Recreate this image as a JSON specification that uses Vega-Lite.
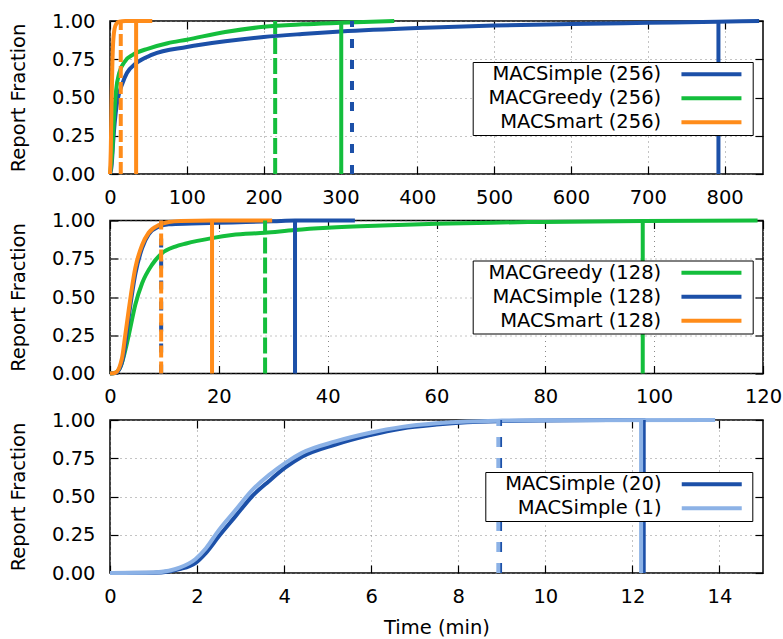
{
  "$schema": "https://vega.github.io/schema/vega-lite/v6.json",
  "padding": {"left": 7, "top": 10, "right": 0, "bottom": 0},
  "background": "white",
  "config": {
    "font": "DejaVu Sans",
    "view": {"stroke": "#000", "strokeWidth": 1.5},
    "axis": {
      "labelFontSize": 19.5, "titleFontSize": 19.5, "titleFontWeight": "normal",
      "labelColor": "#000", "titleColor": "#000", "labelFont": "DejaVu Sans", "titleFont": "DejaVu Sans",
      "domain": false, "ticks": true, "tickSize": -8, "tickColor": "#000", "tickWidth": 1.2,
      "gridColor": "#888", "gridDash": [1, 4], "gridWidth": 1,
      "labelFlush": false, "labelOverlap": false
    },
    "legend": {
      "labelFontSize": 19.5, "labelFont": "DejaVu Sans", "labelColor": "#000", "labelLimit": 0,
      "symbolType": "M-6,0H6", "symbolStrokeWidth": 4, "symbolSize": 100, "symbolDash": [],
      "strokeColor": "#000", "fillColor": "#fff", "padding": 2.5, "rowPadding": 3,
      "orient": "none", "labelAlign": "right", "titleOrient": "right", "titleFontSize": 19.5, "titlePadding": 0
    }
  },
  "datasets": {
    "curves": [
      {"p": 1, "s": "MACSimple (256)", "t": 0, "f": 0},
      {"p": 1, "s": "MACSimple (256)", "t": 2, "f": 0.05},
      {"p": 1, "s": "MACSimple (256)", "t": 4, "f": 0.2},
      {"p": 1, "s": "MACSimple (256)", "t": 6, "f": 0.33},
      {"p": 1, "s": "MACSimple (256)", "t": 9, "f": 0.46},
      {"p": 1, "s": "MACSimple (256)", "t": 12, "f": 0.53},
      {"p": 1, "s": "MACSimple (256)", "t": 16, "f": 0.59},
      {"p": 1, "s": "MACSimple (256)", "t": 22, "f": 0.66},
      {"p": 1, "s": "MACSimple (256)", "t": 33, "f": 0.72},
      {"p": 1, "s": "MACSimple (256)", "t": 55, "f": 0.78},
      {"p": 1, "s": "MACSimple (256)", "t": 100, "f": 0.83},
      {"p": 1, "s": "MACSimple (256)", "t": 150, "f": 0.867},
      {"p": 1, "s": "MACSimple (256)", "t": 200, "f": 0.895},
      {"p": 1, "s": "MACSimple (256)", "t": 250, "f": 0.915},
      {"p": 1, "s": "MACSimple (256)", "t": 300, "f": 0.932},
      {"p": 1, "s": "MACSimple (256)", "t": 400, "f": 0.955},
      {"p": 1, "s": "MACSimple (256)", "t": 500, "f": 0.97},
      {"p": 1, "s": "MACSimple (256)", "t": 600, "f": 0.98},
      {"p": 1, "s": "MACSimple (256)", "t": 700, "f": 0.988},
      {"p": 1, "s": "MACSimple (256)", "t": 790, "f": 0.995},
      {"p": 1, "s": "MACSimple (256)", "t": 845, "f": 1.0},
      {"p": 1, "s": "MACGreedy (256)", "t": 0, "f": 0},
      {"p": 1, "s": "MACGreedy (256)", "t": 3, "f": 0.15},
      {"p": 1, "s": "MACGreedy (256)", "t": 5, "f": 0.35},
      {"p": 1, "s": "MACGreedy (256)", "t": 8, "f": 0.55},
      {"p": 1, "s": "MACGreedy (256)", "t": 12, "f": 0.66},
      {"p": 1, "s": "MACGreedy (256)", "t": 20, "f": 0.74},
      {"p": 1, "s": "MACGreedy (256)", "t": 30, "f": 0.78},
      {"p": 1, "s": "MACGreedy (256)", "t": 50, "f": 0.82},
      {"p": 1, "s": "MACGreedy (256)", "t": 75, "f": 0.855},
      {"p": 1, "s": "MACGreedy (256)", "t": 100, "f": 0.878},
      {"p": 1, "s": "MACGreedy (256)", "t": 150, "f": 0.928},
      {"p": 1, "s": "MACGreedy (256)", "t": 200, "f": 0.962},
      {"p": 1, "s": "MACGreedy (256)", "t": 250, "f": 0.978},
      {"p": 1, "s": "MACGreedy (256)", "t": 300, "f": 0.988},
      {"p": 1, "s": "MACGreedy (256)", "t": 370, "f": 1.0},
      {"p": 1, "s": "MACSmart (256)", "t": 0, "f": 0},
      {"p": 1, "s": "MACSmart (256)", "t": 1, "f": 0.15},
      {"p": 1, "s": "MACSmart (256)", "t": 2, "f": 0.45},
      {"p": 1, "s": "MACSmart (256)", "t": 3, "f": 0.7},
      {"p": 1, "s": "MACSmart (256)", "t": 4, "f": 0.85},
      {"p": 1, "s": "MACSmart (256)", "t": 6, "f": 0.95},
      {"p": 1, "s": "MACSmart (256)", "t": 8, "f": 0.98},
      {"p": 1, "s": "MACSmart (256)", "t": 12, "f": 0.995},
      {"p": 1, "s": "MACSmart (256)", "t": 20, "f": 1.0},
      {"p": 1, "s": "MACSmart (256)", "t": 55, "f": 1.0},

      {"p": 2, "s": "MACGreedy (128)", "t": 0, "f": 0},
      {"p": 2, "s": "MACGreedy (128)", "t": 1, "f": 0.005},
      {"p": 2, "s": "MACGreedy (128)", "t": 2, "f": 0.05},
      {"p": 2, "s": "MACGreedy (128)", "t": 3, "f": 0.18},
      {"p": 2, "s": "MACGreedy (128)", "t": 3.5, "f": 0.26},
      {"p": 2, "s": "MACGreedy (128)", "t": 4.65, "f": 0.45},
      {"p": 2, "s": "MACGreedy (128)", "t": 5.9, "f": 0.59},
      {"p": 2, "s": "MACGreedy (128)", "t": 7.7, "f": 0.71},
      {"p": 2, "s": "MACGreedy (128)", "t": 9.5, "f": 0.785},
      {"p": 2, "s": "MACGreedy (128)", "t": 12, "f": 0.83},
      {"p": 2, "s": "MACGreedy (128)", "t": 14, "f": 0.85},
      {"p": 2, "s": "MACGreedy (128)", "t": 18.75, "f": 0.885},
      {"p": 2, "s": "MACGreedy (128)", "t": 22.4, "f": 0.905},
      {"p": 2, "s": "MACGreedy (128)", "t": 28.5, "f": 0.92},
      {"p": 2, "s": "MACGreedy (128)", "t": 34, "f": 0.938},
      {"p": 2, "s": "MACGreedy (128)", "t": 40, "f": 0.952},
      {"p": 2, "s": "MACGreedy (128)", "t": 50, "f": 0.967},
      {"p": 2, "s": "MACGreedy (128)", "t": 60, "f": 0.978},
      {"p": 2, "s": "MACGreedy (128)", "t": 70, "f": 0.986},
      {"p": 2, "s": "MACGreedy (128)", "t": 80, "f": 0.991},
      {"p": 2, "s": "MACGreedy (128)", "t": 98, "f": 0.997},
      {"p": 2, "s": "MACGreedy (128)", "t": 119, "f": 1.0},
      {"p": 2, "s": "MACSimple (128)", "t": 0, "f": 0},
      {"p": 2, "s": "MACSimple (128)", "t": 1, "f": 0.003},
      {"p": 2, "s": "MACSimple (128)", "t": 2, "f": 0.05},
      {"p": 2, "s": "MACSimple (128)", "t": 2.5, "f": 0.12},
      {"p": 2, "s": "MACSimple (128)", "t": 3.4, "f": 0.36},
      {"p": 2, "s": "MACSimple (128)", "t": 4.65, "f": 0.65},
      {"p": 2, "s": "MACSimple (128)", "t": 5.9, "f": 0.82},
      {"p": 2, "s": "MACSimple (128)", "t": 7.1, "f": 0.91},
      {"p": 2, "s": "MACSimple (128)", "t": 9, "f": 0.96},
      {"p": 2, "s": "MACSimple (128)", "t": 10.8, "f": 0.975},
      {"p": 2, "s": "MACSimple (128)", "t": 15, "f": 0.98},
      {"p": 2, "s": "MACSimple (128)", "t": 20, "f": 0.985},
      {"p": 2, "s": "MACSimple (128)", "t": 25, "f": 0.99},
      {"p": 2, "s": "MACSimple (128)", "t": 30, "f": 0.995},
      {"p": 2, "s": "MACSimple (128)", "t": 34, "f": 1.0},
      {"p": 2, "s": "MACSimple (128)", "t": 45, "f": 1.0},
      {"p": 2, "s": "MACSmart (128)", "t": 0, "f": 0},
      {"p": 2, "s": "MACSmart (128)", "t": 1, "f": 0.005},
      {"p": 2, "s": "MACSmart (128)", "t": 2.2, "f": 0.1},
      {"p": 2, "s": "MACSmart (128)", "t": 2.8, "f": 0.25},
      {"p": 2, "s": "MACSmart (128)", "t": 3.4, "f": 0.405},
      {"p": 2, "s": "MACSmart (128)", "t": 4.65, "f": 0.69},
      {"p": 2, "s": "MACSmart (128)", "t": 5.9, "f": 0.84},
      {"p": 2, "s": "MACSmart (128)", "t": 7.1, "f": 0.92},
      {"p": 2, "s": "MACSmart (128)", "t": 9, "f": 0.97},
      {"p": 2, "s": "MACSmart (128)", "t": 10.8, "f": 0.99},
      {"p": 2, "s": "MACSmart (128)", "t": 13, "f": 0.997},
      {"p": 2, "s": "MACSmart (128)", "t": 18.75, "f": 1.0},
      {"p": 2, "s": "MACSmart (128)", "t": 29.8, "f": 1.0},

      {"p": 3, "s": "MACSimple (20)", "t": 0, "f": 0},
      {"p": 3, "s": "MACSimple (20)", "t": 1, "f": 0.002},
      {"p": 3, "s": "MACSimple (20)", "t": 1.35, "f": 0.01},
      {"p": 3, "s": "MACSimple (20)", "t": 1.6, "f": 0.025},
      {"p": 3, "s": "MACSimple (20)", "t": 1.96, "f": 0.065},
      {"p": 3, "s": "MACSimple (20)", "t": 2.2, "f": 0.13},
      {"p": 3, "s": "MACSimple (20)", "t": 2.5, "f": 0.24},
      {"p": 3, "s": "MACSimple (20)", "t": 2.88, "f": 0.37},
      {"p": 3, "s": "MACSimple (20)", "t": 3.26, "f": 0.5},
      {"p": 3, "s": "MACSimple (20)", "t": 3.65, "f": 0.6},
      {"p": 3, "s": "MACSimple (20)", "t": 4.03, "f": 0.69},
      {"p": 3, "s": "MACSimple (20)", "t": 4.41, "f": 0.76},
      {"p": 3, "s": "MACSimple (20)", "t": 5.18, "f": 0.84},
      {"p": 3, "s": "MACSimple (20)", "t": 5.95, "f": 0.9},
      {"p": 3, "s": "MACSimple (20)", "t": 6.71, "f": 0.945},
      {"p": 3, "s": "MACSimple (20)", "t": 7.5, "f": 0.97},
      {"p": 3, "s": "MACSimple (20)", "t": 8.2, "f": 0.985},
      {"p": 3, "s": "MACSimple (20)", "t": 9, "f": 0.993},
      {"p": 3, "s": "MACSimple (20)", "t": 10, "f": 0.997},
      {"p": 3, "s": "MACSimple (20)", "t": 12.3, "f": 1.0},
      {"p": 3, "s": "MACSimple (1)", "t": 0, "f": 0},
      {"p": 3, "s": "MACSimple (1)", "t": 1, "f": 0.004},
      {"p": 3, "s": "MACSimple (1)", "t": 1.35, "f": 0.015},
      {"p": 3, "s": "MACSimple (1)", "t": 1.6, "f": 0.035},
      {"p": 3, "s": "MACSimple (1)", "t": 1.96, "f": 0.09},
      {"p": 3, "s": "MACSimple (1)", "t": 2.2, "f": 0.16},
      {"p": 3, "s": "MACSimple (1)", "t": 2.5, "f": 0.28},
      {"p": 3, "s": "MACSimple (1)", "t": 2.88, "f": 0.41},
      {"p": 3, "s": "MACSimple (1)", "t": 3.26, "f": 0.54},
      {"p": 3, "s": "MACSimple (1)", "t": 3.65, "f": 0.64},
      {"p": 3, "s": "MACSimple (1)", "t": 4.03, "f": 0.72},
      {"p": 3, "s": "MACSimple (1)", "t": 4.41, "f": 0.785},
      {"p": 3, "s": "MACSimple (1)", "t": 5.18, "f": 0.86},
      {"p": 3, "s": "MACSimple (1)", "t": 5.95, "f": 0.915},
      {"p": 3, "s": "MACSimple (1)", "t": 6.71, "f": 0.955},
      {"p": 3, "s": "MACSimple (1)", "t": 7.5, "f": 0.978},
      {"p": 3, "s": "MACSimple (1)", "t": 8.2, "f": 0.99},
      {"p": 3, "s": "MACSimple (1)", "t": 9, "f": 0.996},
      {"p": 3, "s": "MACSimple (1)", "t": 10, "f": 0.999},
      {"p": 3, "s": "MACSimple (1)", "t": 13.9, "f": 1.0}
    ],
    "rules": [
      {"p": 1, "s": "MACSimple (256)", "k": "p", "t": 315},
      {"p": 1, "s": "MACGreedy (256)", "k": "p", "t": 215},
      {"p": 1, "s": "MACSmart (256)", "k": "p", "t": 14},
      {"p": 1, "s": "MACSimple (256)", "k": "max", "t": 792},
      {"p": 1, "s": "MACGreedy (256)", "k": "max", "t": 301},
      {"p": 1, "s": "MACSmart (256)", "k": "max", "t": 34},
      {"p": 2, "s": "MACGreedy (128)", "k": "p", "t": 28.5},
      {"p": 2, "s": "MACSimple (128)", "k": "p", "t": 9.4},
      {"p": 2, "s": "MACSmart (128)", "k": "p", "t": 9.4},
      {"p": 2, "s": "MACGreedy (128)", "k": "max", "t": 97.9},
      {"p": 2, "s": "MACSimple (128)", "k": "max", "t": 34},
      {"p": 2, "s": "MACSmart (128)", "k": "max", "t": 18.75},
      {"p": 3, "s": "MACSimple (20)", "k": "p", "t": 8.96},
      {"p": 3, "s": "MACSimple (1)", "k": "p", "t": 8.92},
      {"p": 3, "s": "MACSimple (20)", "k": "max", "t": 12.26},
      {"p": 3, "s": "MACSimple (1)", "k": "max", "t": 12.2}
    ]
  },
  "spacing": 1.5,
  "resolve": {
    "scale": {"x": "independent", "color": "independent", "strokeDash": "independent"},
    "legend": {"color": "independent", "strokeDash": "independent"}
  },
  "vconcat": [
    {
      "width": 653, "height": 153,
      "resolve": {"axis": {"x": "independent", "y": "independent"}},
      "layer": [
        {
          "data": {"name": "curves"},
          "transform": [{"filter": "datum.p == 1"}],
          "mark": {"type": "line", "strokeWidth": 4, "interpolate": "monotone"},
          "encoding": {
            "x": {"field": "t", "type": "quantitative", "scale": {"domain": [0, 850], "nice": false, "zero": false},
                  "axis": {"orient": "bottom", "title": null, "grid": true, "values": [0,100,200,300,400,500,600,700,800], "labelPadding": 22}},
            "y": {"field": "f", "type": "quantitative", "scale": {"domain": [0, 1], "nice": false},
                  "axis": {"orient": "left", "title": "Report Fraction", "grid": true, "values": [0,0.25,0.5,0.75,1], "format": ".2f", "labelPadding": 23, "titlePadding": 23}},
            "color": {"field": "s", "type": "nominal",
                      "scale": {"domain": ["MACSimple (256)", "MACGreedy (256)", "MACSmart (256)"], "range": ["#1c50a8", "#14be3c", "#ff8c1a"]},
                      "legend": {"title": "\u2002", "legendX": 362.7, "legendY": 41, "symbolOffset": 226.5, "labelOffset": -60}}
          }
        },
        {
          "data": {"name": "rules"},
          "transform": [{"filter": "datum.p == 1 && datum.k == 'p'"}, {"calculate": "datum.s + '|p'", "as": "ds"}],
          "mark": {"type": "rule", "strokeWidth": 4},
          "encoding": {
            "x": {"field": "t", "type": "quantitative", "scale": {"domain": [0, 850], "nice": false, "zero": false}, "axis": null},
            "y": {"datum": 0, "type": "quantitative", "scale": {"domain": [0, 1], "nice": false}, "axis": null},
            "y2": {"datum": 1},
            "color": {"field": "s", "type": "nominal"},
            "strokeDash": {"field": "ds", "type": "nominal", "legend": null,
                           "scale": {"domain": ["MACSimple (256)|p", "MACGreedy (256)|p", "MACSmart (256)|p"], "range": [[9, 12], [16, 4], [12, 4]]}}
          }
        },
        {
          "data": {"name": "rules"},
          "transform": [{"filter": "datum.p == 1 && datum.k == 'max'"}],
          "mark": {"type": "rule", "strokeWidth": 4},
          "encoding": {
            "x": {"field": "t", "type": "quantitative", "scale": {"domain": [0, 850], "nice": false, "zero": false},
                  "axis": {"orient": "top", "title": null, "labels": false, "grid": false, "values": [0,100,200,300,400,500,600,700,800]}},
            "y": {"datum": 0, "type": "quantitative", "scale": {"domain": [0, 1], "nice": false},
                  "axis": {"orient": "right", "title": null, "labels": false, "grid": false, "values": [0,0.25,0.5,0.75,1]}},
            "y2": {"datum": 1},
            "color": {"field": "s", "type": "nominal"}
          }
        }
      ]
    },
    {
      "width": 653, "height": 153,
      "resolve": {"axis": {"x": "independent", "y": "independent"}},
      "layer": [
        {
          "data": {"name": "curves"},
          "transform": [{"filter": "datum.p == 2"}],
          "mark": {"type": "line", "strokeWidth": 4, "interpolate": "monotone"},
          "encoding": {
            "x": {"field": "t", "type": "quantitative", "scale": {"domain": [0, 120], "nice": false, "zero": false},
                  "axis": {"orient": "bottom", "title": null, "grid": true, "values": [0,20,40,60,80,100,120], "labelPadding": 22}},
            "y": {"field": "f", "type": "quantitative", "scale": {"domain": [0, 1], "nice": false},
                  "axis": {"orient": "left", "title": "Report Fraction", "grid": true, "values": [0,0.25,0.5,0.75,1], "format": ".2f", "labelPadding": 23, "titlePadding": 23}},
            "color": {"field": "s", "type": "nominal",
                      "scale": {"domain": ["MACGreedy (128)", "MACSimple (128)", "MACSmart (128)"], "range": ["#14be3c", "#1c50a8", "#ff8c1a"]},
                      "legend": {"title": "\u2002", "legendX": 362.7, "legendY": 40, "symbolOffset": 226.5, "labelOffset": -60}}
          }
        },
        {
          "data": {"name": "rules"},
          "transform": [{"filter": "datum.p == 2 && datum.k == 'p'"}, {"calculate": "datum.s + '|p'", "as": "ds"}],
          "mark": {"type": "rule", "strokeWidth": 4},
          "encoding": {
            "x": {"field": "t", "type": "quantitative", "scale": {"domain": [0, 120], "nice": false, "zero": false}, "axis": null},
            "y": {"datum": 0, "type": "quantitative", "scale": {"domain": [0, 1], "nice": false}, "axis": null},
            "y2": {"datum": 1},
            "color": {"field": "s", "type": "nominal"},
            "strokeDash": {"field": "ds", "type": "nominal", "legend": null,
                           "scale": {"domain": ["MACGreedy (128)|p", "MACSimple (128)|p", "MACSmart (128)|p"], "range": [[16, 4], [9, 12], [12, 4]]}}
          }
        },
        {
          "data": {"name": "rules"},
          "transform": [{"filter": "datum.p == 2 && datum.k == 'max'"}],
          "mark": {"type": "rule", "strokeWidth": 4},
          "encoding": {
            "x": {"field": "t", "type": "quantitative", "scale": {"domain": [0, 120], "nice": false, "zero": false},
                  "axis": {"orient": "top", "title": null, "labels": false, "grid": false, "values": [0,20,40,60,80,100,120]}},
            "y": {"datum": 0, "type": "quantitative", "scale": {"domain": [0, 1], "nice": false},
                  "axis": {"orient": "right", "title": null, "labels": false, "grid": false, "values": [0,0.25,0.5,0.75,1]}},
            "y2": {"datum": 1},
            "color": {"field": "s", "type": "nominal"}
          }
        }
      ]
    },
    {
      "width": 653, "height": 153,
      "resolve": {"axis": {"x": "independent", "y": "independent"}},
      "layer": [
        {
          "data": {"name": "curves"},
          "transform": [{"filter": "datum.p == 3"}],
          "mark": {"type": "line", "strokeWidth": 4, "interpolate": "monotone"},
          "encoding": {
            "x": {"field": "t", "type": "quantitative", "scale": {"domain": [0, 15], "nice": false, "zero": false},
                  "axis": {"orient": "bottom", "title": "Time (min)", "grid": true, "values": [0,2,4,6,8,10,12,14], "labelPadding": 22, "titlePadding": 13}},
            "y": {"field": "f", "type": "quantitative", "scale": {"domain": [0, 1], "nice": false},
                  "axis": {"orient": "left", "title": "Report Fraction", "grid": true, "values": [0,0.25,0.5,0.75,1], "format": ".2f", "labelPadding": 23, "titlePadding": 23}},
            "color": {"field": "s", "type": "nominal",
                      "scale": {"domain": ["MACSimple (20)", "MACSimple (1)"], "range": ["#1c50a8", "#8cb2e6"]},
                      "legend": {"title": "\u2002", "legendX": 375.3, "legendY": 52, "symbolOffset": 214.2, "labelOffset": -60}}
          }
        },
        {
          "data": {"name": "rules"},
          "transform": [{"filter": "datum.p == 3 && datum.k == 'p'"}, {"calculate": "datum.s + '|p'", "as": "ds"}],
          "mark": {"type": "rule", "strokeWidth": 4},
          "encoding": {
            "x": {"field": "t", "type": "quantitative", "scale": {"domain": [0, 15], "nice": false, "zero": false}, "axis": null},
            "y": {"datum": 0, "type": "quantitative", "scale": {"domain": [0, 1], "nice": false}, "axis": null},
            "y2": {"datum": 1},
            "color": {"field": "s", "type": "nominal"},
            "strokeDash": {"field": "ds", "type": "nominal", "legend": null,
                           "scale": {"domain": ["MACSimple (20)|p", "MACSimple (1)|p"], "range": [[10, 11], [10, 11]]}}
          }
        },
        {
          "data": {"name": "rules"},
          "transform": [{"filter": "datum.p == 3 && datum.k == 'max'"}],
          "mark": {"type": "rule", "strokeWidth": 4},
          "encoding": {
            "x": {"field": "t", "type": "quantitative", "scale": {"domain": [0, 15], "nice": false, "zero": false},
                  "axis": {"orient": "top", "title": null, "labels": false, "grid": false, "values": [0,2,4,6,8,10,12,14]}},
            "y": {"datum": 0, "type": "quantitative", "scale": {"domain": [0, 1], "nice": false},
                  "axis": {"orient": "right", "title": null, "labels": false, "grid": false, "values": [0,0.25,0.5,0.75,1]}},
            "y2": {"datum": 1},
            "color": {"field": "s", "type": "nominal"}
          }
        }
      ]
    }
  ]
}
